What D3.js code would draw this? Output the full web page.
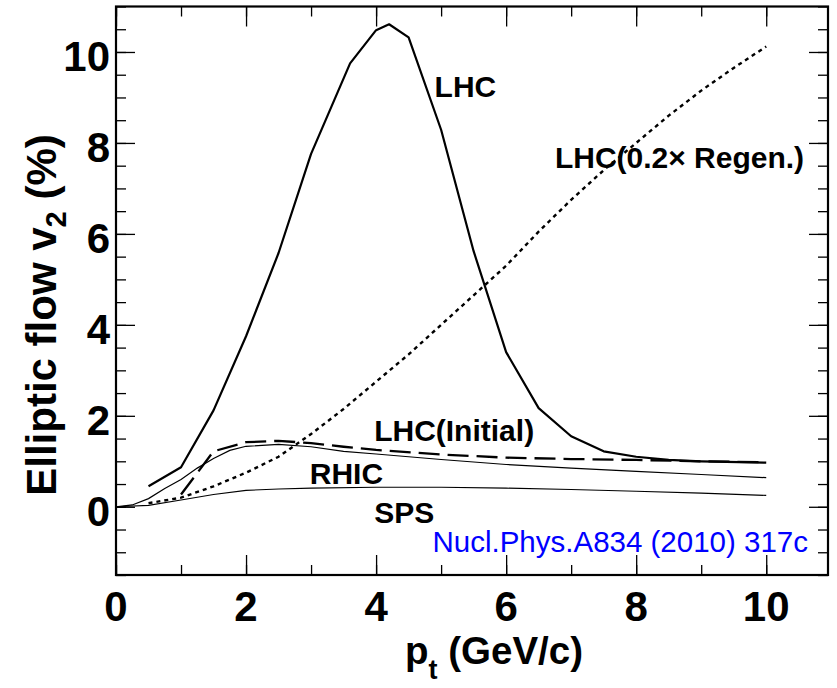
<!DOCTYPE html>
<html>
<head>
<meta charset="utf-8">
<script src="https://cdn.jsdelivr.net/npm/d3@7/dist/d3.min.js"></script>
<style>
  html, body { margin: 0; padding: 0; background: #fff; }
  svg { display: block; }
  text { font-family: "Liberation Sans", Arial, Helvetica, sans-serif; }
</style>
</head>
<body>
<svg id="chart" width="837" height="688"></svg>
<script>
// ---- data ----
const lhcX      = [0.5, 1.0, 1.5, 2.0, 2.5, 3.0, 3.6, 4.0, 4.2, 4.5, 5.0, 5.5, 6.0, 6.5, 7.0, 7.5, 8.0, 8.5, 9.0, 10.0];
const lhcY      = [0.45, 0.87, 2.12, 3.75, 5.58, 7.76, 9.75, 10.48, 10.61, 10.32, 8.29, 5.62, 3.40, 2.17, 1.55, 1.22, 1.10, 1.03, 1.00, 0.97];

const regenX    = [0.5, 1.0, 1.5, 2.0, 2.5, 3.0, 3.5, 4.0, 4.5, 5.0, 5.5, 6.0, 6.5, 7.0, 7.5, 8.0, 8.5, 9.0, 9.5, 10.0];
const regenY    = [0.08, 0.20, 0.45, 0.75, 1.10, 1.60, 2.15, 2.75, 3.35, 4.00, 4.65, 5.30, 6.05, 6.75, 7.40, 8.00, 8.60, 9.15, 9.65, 10.12];

const initX     = [1.0, 1.5, 2.0, 2.5, 3.0, 3.5, 4.0, 5.0, 6.0, 7.0, 8.0, 9.0, 10.0];
const initY     = [0.27, 1.22, 1.42, 1.45, 1.40, 1.32, 1.25, 1.15, 1.08, 1.05, 1.03, 1.00, 0.98];

const rhicX     = [0, 0.25, 0.5, 0.75, 1.0, 1.25, 1.5, 1.75, 2.0, 2.5, 3.0, 3.5, 4.0, 5.0, 6.0, 7.0, 8.0, 9.0, 10.0];
const rhicY     = [0, 0.04, 0.18, 0.40, 0.60, 0.85, 1.06, 1.24, 1.33, 1.37, 1.32, 1.22, 1.16, 1.04, 0.93, 0.85, 0.78, 0.71, 0.64];

const spsX      = [0, 0.5, 1.0, 1.5, 2.0, 2.5, 3.0, 4.0, 5.0, 6.0, 7.0, 8.0, 9.0, 10.0];
const spsY      = [0, 0.03, 0.15, 0.27, 0.36, 0.39, 0.41, 0.43, 0.43, 0.41, 0.38, 0.34, 0.30, 0.25];

const xTickLabels = [0, 2, 4, 6, 8, 10];
const yTickLabels = [0, 2, 4, 6, 8, 10];
const xMinor = d3.range(0, 10.01, 1);
const yMinor = d3.range(-1.5, 11.01, 0.5);

const curveLabels = [
  {text: "LHC", x: 4.9, y: 9.0},
  {text: "LHC(0.2\u00D7 Regen.)", x: 6.75, y: 7.45},
  {text: "LHC(Initial)", x: 3.97, y: 1.45},
  {text: "RHIC", x: 2.98, y: 0.5},
  {text: "SPS", x: 3.97, y: -0.35}
];
const refNote = "Nucl.Phys.A834 (2010) 317c";

// ---- layout ----
const svg = d3.select("#chart");
const L = 116, R = 828, T = 6.5, B = 575;
const x = d3.scaleLinear().domain([0, 10.95]).range([L, R]);
const y = d3.scaleLinear().domain([-1.5, 11]).range([B, T]);

function zip(xs, ys) { return xs.map((v, i) => [v, ys[i]]); }
const line = d3.line().x(d => x(d[0])).y(d => y(d[1]));

// axes with inward ticks (all four sides)
function addAxis(gen, tx, ty) {
  const g = svg.append("g").attr("transform", `translate(${tx},${ty})`).call(gen);
  g.selectAll(".domain").remove();
  g.selectAll("line").attr("stroke", "#000").attr("stroke-width", 1.3);
  g.selectAll("text").remove();
  return g;
}
addAxis(d3.axisBottom(x).tickValues(xMinor).tickSize(-10), 0, B);
addAxis(d3.axisBottom(x).tickValues(xTickLabels).tickSize(-20), 0, B);
addAxis(d3.axisTop(x).tickValues(xMinor).tickSize(-10), 0, T);
addAxis(d3.axisTop(x).tickValues(xTickLabels).tickSize(-20), 0, T);
addAxis(d3.axisLeft(y).tickValues(yMinor).tickSize(-10), L, 0);
addAxis(d3.axisLeft(y).tickValues(yTickLabels).tickSize(-19), L, 0);
addAxis(d3.axisRight(y).tickValues(yMinor).tickSize(-10), R, 0);
addAxis(d3.axisRight(y).tickValues(yTickLabels).tickSize(-19), R, 0);

// frame
svg.append("rect").attr("x", L).attr("y", T).attr("width", R - L).attr("height", B - T)
  .attr("fill", "none").attr("stroke", "#000").attr("stroke-width", 2.2);

// tick labels
svg.append("g").selectAll("text").data(xTickLabels).join("text")
  .attr("x", d => x(d)).attr("y", 621)
  .attr("text-anchor", "middle").attr("font-size", 42).attr("font-weight", "bold")
  .text(d => d);
svg.append("g").selectAll("text").data(yTickLabels).join("text")
  .attr("x", 110).attr("y", d => y(d) + 19)
  .attr("text-anchor", "end").attr("font-size", 42).attr("font-weight", "bold")
  .text(d => d);

// axis titles
const xt = svg.append("text").attr("x", 405).attr("y", 664)
  .attr("font-size", 38.5).attr("font-weight", "bold");
xt.append("tspan").text("p");
xt.append("tspan").attr("font-size", 27).attr("dy", 15).text("t");
xt.append("tspan").attr("dy", -15).text(" (GeV/c)");

const yt = svg.append("text").attr("transform", "translate(56,315) rotate(-90)")
  .attr("text-anchor", "middle").attr("font-size", 42).attr("font-weight", "bold");
yt.append("tspan").text("Elliptic flow v");
yt.append("tspan").attr("font-size", 29).attr("dy", 10).text("2");
yt.append("tspan").attr("dy", -10).text(" (%)");

// curves
const plot = svg.append("g");
plot.append("path").datum(zip(spsX, spsY)).attr("d", line)
  .attr("fill", "none").attr("stroke", "#000").attr("stroke-width", 1.1);
plot.append("path").datum(zip(rhicX, rhicY)).attr("d", line)
  .attr("fill", "none").attr("stroke", "#000").attr("stroke-width", 1.2);
plot.append("path").datum(zip(initX, initY)).attr("d", line)
  .attr("fill", "none").attr("stroke", "#000").attr("stroke-width", 2.3)
  .attr("stroke-dasharray", "21,8");
plot.append("path").datum(zip(regenX, regenY)).attr("d", line)
  .attr("fill", "none").attr("stroke", "#000").attr("stroke-width", 2.4)
  .attr("stroke-dasharray", "4,4");
plot.append("path").datum(zip(lhcX, lhcY)).attr("d", line)
  .attr("fill", "none").attr("stroke", "#000").attr("stroke-width", 2.2)
  .attr("stroke-linejoin", "round");

// curve labels
svg.append("g").selectAll("text").data(curveLabels).join("text")
  .attr("x", d => x(d.x)).attr("y", d => y(d.y))
  .attr("font-size", 30).attr("font-weight", "bold")
  .text(d => d.text);

// reference note
svg.append("text").attr("x", 808).attr("y", 552).attr("text-anchor", "end")
  .attr("font-size", 29.5).attr("fill", "#0000ff").text(refNote);
</script>
</body>
</html>
